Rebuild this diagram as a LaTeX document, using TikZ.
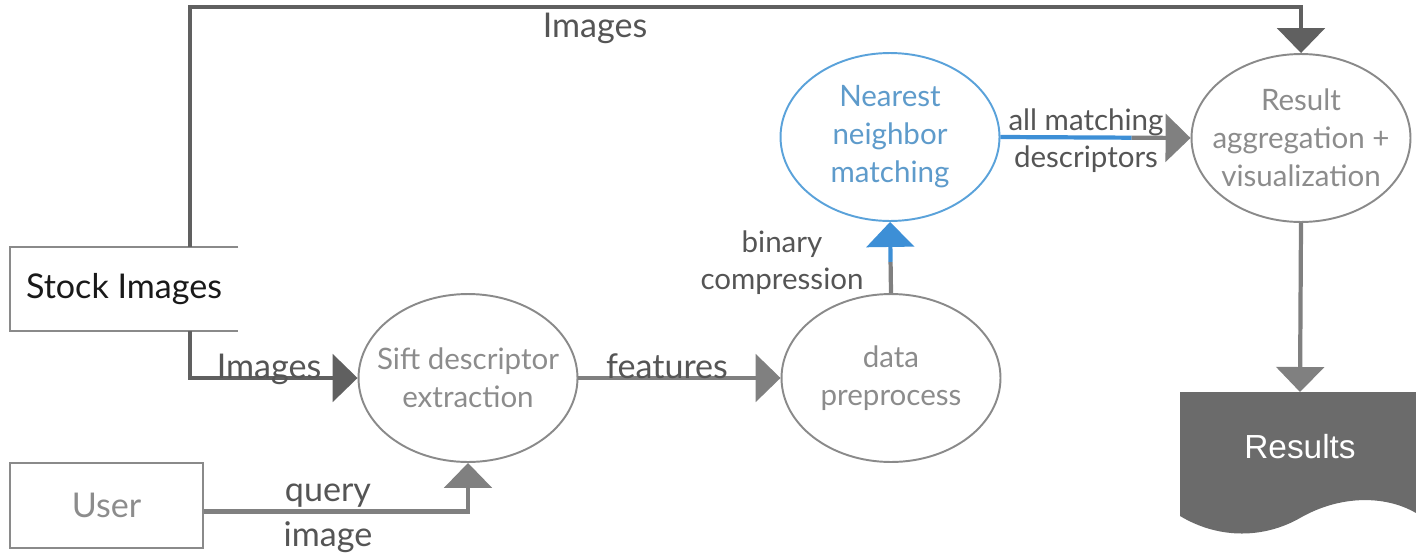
\documentclass[tikz,border=0pt]{standalone}
\usepackage{fontspec}
\setmainfont{Lato}
\newfontfamily\arialfont{Liberation Sans}
\usetikzlibrary{arrows.meta,
                calc,
                positioning,
                shapes.geometric
            }

\definecolor{linedark}{HTML}{606060}
\definecolor{linegrey}{HTML}{808080}
\definecolor{rimgrey}{HTML}{8A8A8A}
\definecolor{textgrey}{HTML}{8C8C8C}
\definecolor{lbltext}{HTML}{555555}
\definecolor{nnblue}{HTML}{3D8FD6}
\definecolor{nnrim}{HTML}{5AA2DA}
\definecolor{nntext}{HTML}{5E9BCB}
\definecolor{docfill}{HTML}{6B6B6B}

\tikzset{
    proc/.style={ellipse, draw=rimgrey, line width=1.1pt, text=textgrey,
        minimum width=4.38cm, minimum height=3.36cm, inner xsep=-0.5cm, inner ysep=0pt,
        align=center, font=\fontsize{16.8}{21.6}\selectfont},
    lbl/.style={text=lbltext, inner sep=0pt, font=\fontsize{19.4}{23}\selectfont},
    lblsmall/.style={text=lbltext, inner sep=0pt, align=center,
        font=\fontsize{16.8}{21}\selectfont},
    tip/.style={-{Triangle[width=0.95cm, length=0.5cm]}},
    flow/.style={draw=linegrey, line width=2.4pt, tip},
    flowdark/.style={draw=linedark, line width=2.4pt, tip, color=linedark},
    flowblue/.style={draw=nnblue, line width=2.4pt, tip, color=nnblue}
}

\begin{document}
\begin{tikzpicture}[x=0.02cm, y=-0.02cm]
    \useasboundingbox (0,0) rectangle (1416,555);

    % stores and actor
    \node[minimum width=4.56cm, minimum height=1.68cm, text=black!90,
          font=\fontsize{19.4}{23}\selectfont] (stock) at (124,289) {Stock Images};
    \draw[rimgrey, line width=1.1pt] (stock.north east) -- (stock.north west)
        -- (stock.south west) -- (stock.south east);
    \node[draw=rimgrey, line width=1.1pt, text=textgrey, minimum width=3.86cm,
          minimum height=1.7cm, font=\fontsize{19.4}{23}\selectfont] (user) at (106.5,505.5) {User};

    % processes
    \node[proc] (sift) at (468,378) {Sift descriptor\\extraction};
    \node[proc] (prep) at (891,378) {data\\preprocess};
    \node[proc, draw=nnrim, text=nntext] (nn) at (890,137) {Nearest\\neighbor\\matching};
    \node[proc] (agg) at (1301,138) {Result\\aggregation +\\visualization};

    % results document
    \fill[docfill] (1180,392) -- (1416,392) -- (1416,513)
        .. controls (1385,495) and (1340,495) .. (1300,518)
        .. controls (1265,538) and (1220,540) .. (1180,516) -- cycle;
    \coordinate (restop) at (1300,392);
    \node[text=white, font=\arialfont\fontsize{19}{23}\selectfont] (results) at (1300,447) {Results};

    % connectors
    \draw[flowdark] ([xshift=3.6cm]stock.north west) -- ++(0,-240) -| (agg.north);
    \draw[flowdark] ([xshift=3.6cm]stock.south west) |- (sift.west);
    \draw[flow] (sift.east) -- (prep.west);
    \draw[flow] ([yshift=-0.12cm]user.east) -| (sift.south);
    \coordinate (bc) at ($(prep.north)!0.44!(nn.south)$);
    \draw[linegrey, line width=2.4pt] (prep.north) -- (bc);
    \draw[flowblue] (bc) -- (nn.south);
    \coordinate (am) at ($(nn.east)!0.69!(agg.west)$);
    \draw[nnblue, line width=2.4pt] (nn.east) -- (am);
    \draw[flow] (am) -- (agg.west);
    \draw[flow] (agg.south) -- (restop);

    % labels
    \node[lbl] (topimg) at (595,28) {Images};
    \node[lbl] (lowimg) at (269,369) {Images};
    \node[lbl] (feat) at (667,366) {features};
    \node[lbl] (qry) at (328,496) {query};
    \node[lbl] (img) at (328,537) {image};
    \node[lblsmall] (bin) at (782,263) {binary\\compression};
    \node[lblsmall] (allm) at (1086,141) {all matching\\descriptors};
\end{tikzpicture}
\end{document}
